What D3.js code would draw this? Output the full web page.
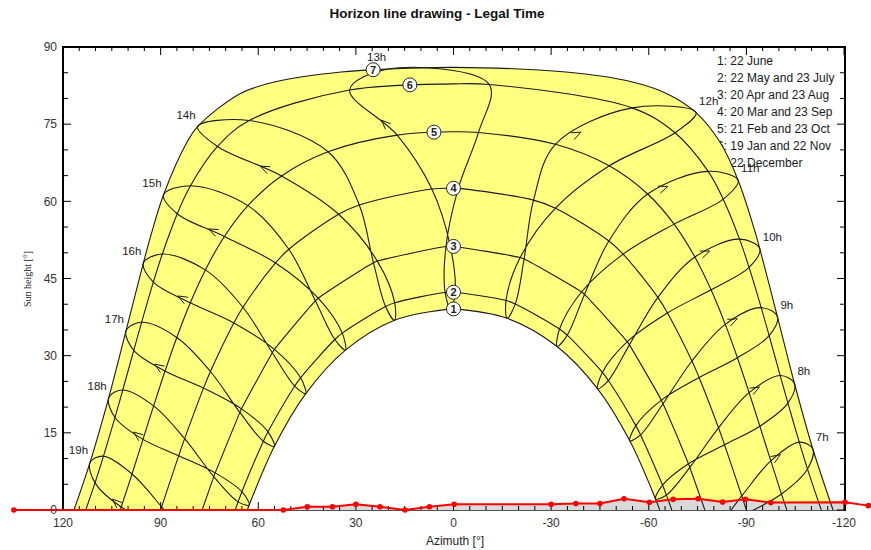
<!DOCTYPE html>
<html>
<head>
<meta charset="utf-8">
<script src="https://cdn.jsdelivr.net/npm/d3@7"></script>
<style>
  body { margin: 0; background: #fff; }
  svg { display: block; font-family: "Liberation Sans", Arial, sans-serif; }
</style>
</head>
<body>
<svg id="chart" width="871" height="550"></svg>
<script>
// ---------------- DATA ----------------
const titleText = "Horizon line drawing - Legal Time";
const hourLabels = ["7h","8h","9h","10h","11h","12h","13h","14h","15h","16h","17h","18h","19h"];
const xTicks = [120, 90, 60, 30, 0, -30, -60, -90, -120];
const yTicks = [0, 15, 30, 45, 60, 75, 90];
const legendLabels = ["1: 22 June", "2: 22 May and 23 July", "3: 20 Apr and 23 Aug",
  "4: 20 Mar and 23 Sep", "5: 21 Feb and 23 Oct", "6: 19 Jan and 22 Nov", "7: 22 December"];

// Sun position [azimuth °, height °] at legal hours 7h..19h for each date
const jun22 = [[-68.66,-9.95],[-62.09,2.15],[-54.17,13.46],[-44.30,23.55],[-31.83,31.79],[-16.49,37.27],[0.89,39.09],[18.14,36.87],[33.21,31.07],[45.39,22.62],[55.04,12.37],[62.79,0.97],[69.26,-11.19]];
const may22 = [[-71.07,-7.46],[-64.23,4.85],[-56.03,16.40],[-45.75,26.75],[-32.59,35.18],[-16.13,40.71],[2.58,42.29],[20.88,39.56],[36.47,33.14],[48.79,24.10],[58.43,13.37],[66.18,1.58],[72.76,-10.88]];
const jul23 = [[-72.09,-9.50],[-65.42,2.90],[-57.48,14.60],[-47.60,25.17],[-34.94,33.98],[-19.00,40.06],[-0.51,42.33],[18.06,40.28],[34.18,34.38],[47.00,25.70],[57.01,15.19],[65.03,3.55],[71.75,-8.83]];
const apr20 = [[-79.28,-3.89],[-72.19,9.00],[-63.88,21.35],[-53.39,32.72],[-39.34,42.38],[-20.49,49.07],[2.32,51.21],[24.60,48.07],[42.46,40.66],[55.68,30.58],[65.65,18.97],[73.66,6.49],[80.61,-6.48]];
const aug23 = [[-79.67,-4.64],[-72.62,8.27],[-64.40,20.66],[-54.06,32.10],[-40.26,41.90],[-21.70,48.80],[0.97,51.23],[23.42,48.38],[41.57,41.17],[55.03,31.21],[65.15,19.66],[73.23,7.22],[80.22,-5.73]];
const mar20 = [[-90.31,-0.60],[-83.28,12.68],[-75.48,25.75],[-65.75,38.31],[-52.14,49.73],[-31.33,58.67],[-1.47,62.52],[28.96,59.29],[50.60,50.68],[64.71,39.41],[74.69,26.92],[82.62,13.87],[89.69,0.60]];
const sep23 = [[-88.58,2.73],[-81.44,15.98],[-73.28,28.97],[-62.80,41.32],[-47.75,52.29],[-24.59,60.24],[6.65,62.40],[35.29,57.49],[54.70,48.02],[67.51,36.35],[76.82,23.69],[84.44,10.56],[91.42,-2.73]];
const feb21 = [[-100.79,3.10],[-94.14,16.29],[-87.25,29.59],[-79.14,42.80],[-67.79,55.57],[-47.85,66.91],[-7.68,73.39],[38.55,69.63],[63.17,59.17],[76.25,46.67],[85.03,33.54],[92.15,20.24],[98.79,7.00]];
const oct23 = [[-97.51,9.55],[-90.84,22.81],[-83.52,36.09],[-74.17,49.18],[-59.67,61.43],[-31.30,71.09],[17.31,72.87],[52.86,64.93],[70.41,53.17],[80.88,40.27],[88.64,27.02],[95.42,13.73],[102.11,0.58]];
const jan19 = [[-108.79,7.96],[-102.77,20.77],[-97.00,33.88],[-90.83,47.15],[-82.89,60.42],[-68.08,73.33],[-11.00,82.71],[62.78,75.71],[80.83,63.04],[89.48,49.76],[95.84,36.49],[101.63,23.33],[107.56,10.46]];
const nov22 = [[-106.25,13.19],[-100.39,26.14],[-94.56,39.33],[-87.90,52.65],[-78.26,65.83],[-54.90,78.17],[31.92,81.64],[72.53,70.66],[84.88,57.59],[92.24,44.29],[98.25,31.04],[104.02,17.99],[110.16,5.27]];
const dec22 = [[-110.40,11.90],[-104.78,24.59],[-99.53,37.60],[-94.12,50.80],[-87.46,64.09],[-74.55,77.26],[20.07,85.71],[78.64,74.51],[89.10,61.28],[95.32,47.97],[100.64,34.80],[105.94,21.85],[111.69,9.25]];
// extra points of the 22 December path near the zenith
const decExtra = [[-92.79,53.81],[-81.88,71.52],[-65.61,80.93],[-54.67,83.25],[-34.56,85.14],[34.56,85.14],[54.67,83.25],[65.61,80.93],[81.88,71.52],[92.79,53.81]];
// noon height and sunrise/sunset azimuth of each date curve 1..7
const noonHeight = [39.09, 42.33, 51.23, 62.53, 73.53, 82.83, 86.03];
const riseAzimuth = [63.36, 67.09, 77.24, 90.0, 102.42, 113.02, 116.63];
// numbered markers on the curves [azimuth, height]
const markerAz = [0, 0, 0, 0, 6, 13.4, 24.7];
const markerH = [39.09, 42.33, 51.23, 62.53, 73.45, 82.64, 85.58];

// horizon line
const horizonAz = [135.1, 52.3, 44.9, 37.2, 30.0, 22.6, 14.9, 7.4, -0.2, -30.0, -37.6, -45.0, -52.4, -60.2, -67.5, -75.2, -82.7, -89.7, -97.5, -120.3, -127.5];
const horizonH  = [0, 0, 0.62, 0.62, 1.13, 0.62, 0, 0.62, 1.13, 1.13, 1.26, 1.26, 2.18, 1.52, 2.1, 2.18, 1.55, 2.1, 1.45, 1.5, 0.85];

// ---------------- CHART ----------------
const svg = d3.select("#chart");
const L = 63, R = 845, T = 47, B = 510;
const x = d3.scaleLinear().domain([120, -120]).range([L, 844]);
const y = d3.scaleLinear().domain([0, 90]).range([B, T]);

svg.append("defs").append("clipPath").attr("id", "plotClip")
  .append("rect").attr("x", L).attr("y", T).attr("width", R - L).attr("height", B - T);

const lineGen = d3.line().x(d => x(d[0])).y(d => y(d[1])).curve(d3.curveCatmullRom.alpha(0.5));
const loopGen = d3.line().x(d => x(d[0])).y(d => y(d[1])).curve(d3.curveCatmullRomClosed.alpha(0.5));

const groups = [[jun22], [may22, jul23], [apr20, aug23], [mar20, sep23], [feb21, oct23], [jan19, nov22], [dec22, decExtra]];
function pathPoints(k) {
  let pts = groups[k].flat().concat([[0, noonHeight[k]], [riseAzimuth[k], 0], [-riseAzimuth[k], 0]]);
  pts = pts.filter(p => p[1] >= 0).sort((a, b) => b[0] - a[0]);
  const out = [];
  pts.forEach(p => { if (!out.length || Math.abs(out[out.length - 1][0] - p[0]) > 0.05) out.push(p); });
  return out;
}

// legend text (under the drawing)
const legend = svg.append("g").attr("font-size", 12).attr("fill", "#1a1a1a");
legendLabels.forEach((t, i) => {
  legend.append("text").attr("x", 717).attr("y", 64.5 + i * 17.1).text(t);
});

const plot = svg.append("g").attr("clip-path", "url(#plotClip)");

// yellow band between 22 December and 22 June
const outer = pathPoints(6);
const inner = pathPoints(0).slice().reverse();
plot.append("path")
  .attr("d", lineGen(outer) + lineGen(inner).replace(/^M/, "L") + "Z")
  .attr("fill", "#ffff80").attr("stroke", "none");

// horizon grey fill
const horizon = horizonAz.map((a, i) => [a, horizonH[i]]);
plot.append("path")
  .attr("d", d3.area().x(d => x(d[0])).y0(y(0)).y1(d => y(d[1]))(horizon))
  .attr("fill", "#d9d9d9").attr("stroke", "none");

// date curves
const curves = plot.append("g").attr("fill", "none").attr("stroke", "#1a1a1a").attr("stroke-width", 1.1);
for (let k = 0; k < 7; k++) {
  curves.append("path").attr("d", lineGen(pathPoints(k)));
}

// hour analemmas (chronological order)
const yearOrder = [jun22, jul23, aug23, sep23, oct23, nov22, dec22, jan19, feb21, mar20, apr20, may22];
hourLabels.forEach((h, i) => {
  curves.append("path").attr("d", loopGen(yearOrder.map(d => d[i])));
});

// direction arrows (between 23 Oct and 22 Nov)
const arrows = plot.append("g").attr("fill", "none").attr("stroke", "#1a1a1a").attr("stroke-width", 1);
hourLabels.forEach((h, i) => {
  const p = [x(oct23[i][0]), y(oct23[i][1])], q = [x(nov22[i][0]), y(nov22[i][1])];
  const tx = p[0] + (q[0] - p[0]) / 3, ty = p[1] + (q[1] - p[1]) / 3;
  const ang = Math.atan2(q[1] - p[1], q[0] - p[0]);
  const len = 10, sp = 0.38;
  const w1 = [tx - len * Math.cos(ang - sp), ty - len * Math.sin(ang - sp)];
  const w2 = [tx - len * Math.cos(ang + sp), ty - len * Math.sin(ang + sp)];
  arrows.append("path").attr("d", `M${w1[0]},${w1[1]}L${tx},${ty}L${w2[0]},${w2[1]}`);
});

// frame and axes
const axes = svg.append("g").attr("stroke", "#000");
axes.append("line").attr("x1", L).attr("x2", R).attr("y1", B + 0.5).attr("y2", B + 0.5).attr("stroke", "#555").attr("stroke-width", 1);
axes.append("line").attr("x1", L).attr("x2", L).attr("y1", T - 1).attr("y2", B + 1).attr("stroke-width", 2);
axes.append("line").attr("x1", L - 1).attr("x2", R + 1).attr("y1", T).attr("y2", T).attr("stroke-width", 2);
axes.append("line").attr("x1", R).attr("x2", R).attr("y1", T - 1).attr("y2", B + 1).attr("stroke-width", 2);
d3.range(0, 91, 5).forEach(v => {
  const major = yTicks.includes(v);
  axes.append("line").attr("x1", L).attr("x2", L + (major ? 8 : 5)).attr("y1", y(v)).attr("y2", y(v)).attr("stroke-width", 1);
  axes.append("line").attr("x1", R).attr("x2", R - (major ? 8 : 5)).attr("y1", y(v)).attr("y2", y(v)).attr("stroke-width", 1);
});
d3.range(-120, 121, 5).forEach(v => {
  const major = xTicks.includes(v);
  axes.append("line").attr("x1", x(v)).attr("x2", x(v)).attr("y1", T).attr("y2", T + (major ? 8 : 4)).attr("stroke-width", 1);
  axes.append("line").attr("x1", x(v)).attr("x2", x(v)).attr("y1", B).attr("y2", B - (major ? 8 : 4)).attr("stroke-width", 1);
});

// horizon red line (not clipped)
const red = svg.append("g");
red.append("path").attr("d", d3.line().x(d => x(d[0])).y(d => y(d[1]))(horizon))
  .attr("fill", "none").attr("stroke", "#ff0000").attr("stroke-width", 2);
red.selectAll("circle").data(horizon).join("circle")
  .attr("cx", d => x(d[0])).attr("cy", d => y(d[1])).attr("r", 2.8).attr("fill", "#ff0000");

// tick labels
const tl = svg.append("g").attr("font-size", 12).attr("fill", "#333");
yTicks.forEach(v => tl.append("text").attr("x", 57).attr("y", y(v)).attr("dy", "0.35em").attr("text-anchor", "end").text(v));
xTicks.forEach(v => tl.append("text").attr("x", x(v)).attr("y", 527).attr("text-anchor", "middle").text(v));
tl.append("text").attr("x", 455).attr("y", 545).attr("text-anchor", "middle").attr("fill", "#222").text("Azimuth [°]");
svg.append("text").attr("transform", "translate(31,279) rotate(-90)").attr("text-anchor", "middle")
  .attr("font-family", "'Liberation Serif', 'Times New Roman', serif").attr("font-size", 10).attr("fill", "#222").text("Sun height [°]");
svg.append("text").attr("x", 437).attr("y", 18).attr("text-anchor", "middle").attr("font-weight", "bold")
  .attr("font-size", 13.5).attr("fill", "#111").text(titleText);

// hour labels at the 22 December point
const hl = svg.append("g").attr("font-size", 11.5).attr("fill", "#1a1a1a");
hourLabels.forEach((h, i) => {
  const p = dec22[i];
  hl.append("text").attr("x", x(p[0]) + (p[0] > 0 ? -2 : 3)).attr("y", y(p[1]) - 8)
    .attr("text-anchor", p[0] > 0 ? "end" : "start").text(h);
});

// numbered markers
const mk = svg.append("g");
markerAz.forEach((a, i) => {
  const g = mk.append("g").attr("transform", `translate(${x(a)},${y(markerH[i])})`);
  g.append("circle").attr("r", 7).attr("fill", "#fff").attr("stroke", "#222").attr("stroke-width", 1);
  g.append("text").attr("text-anchor", "middle").attr("dy", "0.36em").attr("font-size", 11)
    .attr("font-weight", "bold").attr("fill", "#222").text(i + 1);
});
</script>
</body>
</html>
